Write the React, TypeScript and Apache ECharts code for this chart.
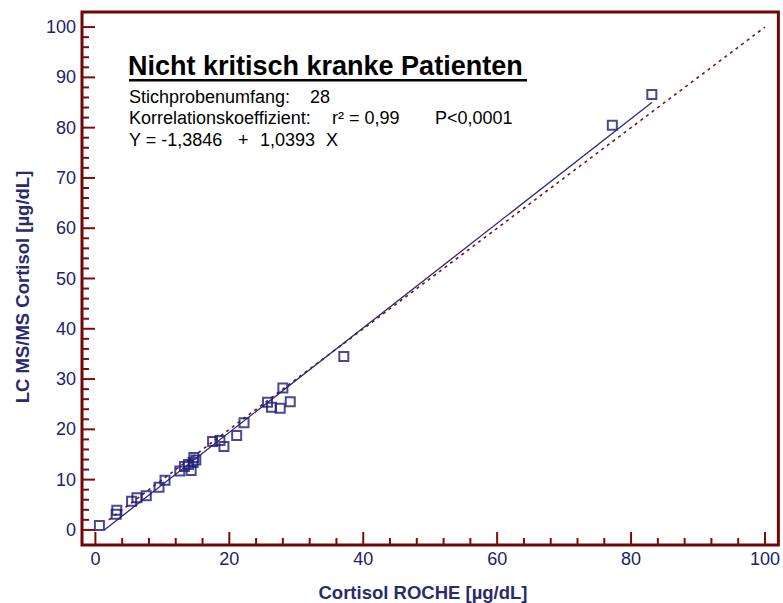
import React, { useEffect, useRef } from "react";
import * as echarts from "echarts";

const rocheX = [0.6, 3.1, 3.2, 5.4, 6.2, 7.6, 9.5, 10.4, 12.6, 13.3, 13.9, 14.3, 14.7, 14.6, 15.0, 17.5, 18.6, 19.2, 21.1, 22.2, 25.7, 26.3, 27.6, 28.0, 29.1, 37.1, 77.2, 83.1];
const lcmsY = [0.9, 3.1, 3.9, 5.7, 6.4, 6.8, 8.5, 9.9, 11.7, 12.6, 13.0, 11.8, 14.4, 13.4, 13.9, 17.6, 17.8, 16.6, 18.8, 21.3, 25.4, 24.4, 24.2, 28.2, 25.5, 34.5, 80.5, 86.6];

const intercept = -1.3846;
const slope = 1.0393;
const regXRange = [1.33, 83.1];
const identityRange = [2, 100];

const xRange = [-2, 102];
const yRange = [-3, 103];
const xMajor = [0, 20, 40, 60, 80, 100];
const xMinor = [4, 8, 12, 16, 24, 28, 32, 36, 44, 48, 52, 56, 64, 68, 72, 76, 84, 88, 92, 96];
const yMajor = [0, 10, 20, 30, 40, 50, 60, 70, 80, 90, 100];
const yMinor = [2, 4, 6, 8, 12, 14, 16, 18, 22, 24, 26, 28, 32, 34, 36, 38, 42, 44, 46, 48, 52, 54, 56, 58, 62, 64, 66, 68, 72, 74, 76, 78, 82, 84, 86, 88, 92, 94, 96, 98];

const FRAME = "#6e0606";
const TICK = "#7a0c0c";
const NAVY = "#1c1c78";
const FONT = "Liberation Sans";

function txt(x: number, y: number, text: string, size = 18, weight = "normal", extra: any = {}) {
  return {
    type: "text",
    x,
    y,
    ...extra,
    style: { text, fill: extra.fill || "#000", fontSize: size, fontWeight: weight, fontFamily: FONT, verticalAlign: "middle", align: extra.align || "left" },
  };
}

export default function App() {
  const ref = useRef<HTMLDivElement>(null);
  useEffect(() => {
    if (!ref.current) return;
    const chart = echarts.init(ref.current, undefined, { renderer: "svg" });
    const points = rocheX.map((x, i) => [x, lcmsY[i]]);
    const regLine = regXRange.map((x) => [x, intercept + slope * x]);
    const idLine = identityRange.map((v) => [v, v]);
    const xTicks = [...xMajor.map((v) => [v, yRange[0], 13]), ...xMinor.map((v) => [v, yRange[0], 7])];
    const yTicks = [...yMajor.map((v) => [xRange[0], v, 13]), ...yMinor.map((v) => [xRange[0], v, 7])];
    chart.setOption({
      animation: false,
      backgroundColor: "#ffffff",
      grid: { left: 82, right: 3, top: 12, bottom: 58, show: true, borderColor: FRAME, borderWidth: 3, backgroundColor: "transparent" },
      xAxis: {
        type: "value",
        gridIndex: 0,
        min: xRange[0],
        max: xRange[1],
        splitLine: { show: false },
        axisLine: { show: false, onZero: false },
        axisTick: { show: false },
        axisLabel: { show: true, customValues: xMajor, margin: 5, color: "#22226a", fontSize: 18, fontFamily: FONT },
      },
      yAxis: {
        type: "value",
        gridIndex: 0,
        min: yRange[0],
        max: yRange[1],
        splitLine: { show: false },
        axisLine: { show: false, onZero: false },
        axisTick: { show: false },
        axisLabel: { show: true, customValues: yMajor, margin: 6, color: "#22226a", fontSize: 18, fontFamily: FONT },
      },
      series: [
        {
          type: "custom",
          xAxisIndex: 0,
          yAxisIndex: 0,
          data: xTicks,
          encode: { x: 0, y: 1 },
          clip: false,
          z: 10,
          renderItem: (params: any, api: any) => {
            const p = api.coord([api.value(0), api.value(1)]);
            const len = xTicks[params.dataIndex][2];
            return { type: "rect", shape: { x: p[0] - 1, y: p[1] - len, width: 2, height: len }, style: { fill: TICK } };
          },
        },
        {
          type: "custom",
          xAxisIndex: 0,
          yAxisIndex: 0,
          data: yTicks,
          encode: { x: 0, y: 1 },
          clip: false,
          z: 10,
          renderItem: (params: any, api: any) => {
            const p = api.coord([api.value(0), api.value(1)]);
            const len = yTicks[params.dataIndex][2];
            return { type: "rect", shape: { x: p[0], y: p[1] - 1, width: len, height: 2 }, style: { fill: TICK } };
          },
        },
        {
          type: "line",
          xAxisIndex: 0,
          yAxisIndex: 0,
          data: idLine,
          symbol: "none",
          lineStyle: { color: "#801010", width: 1.6, type: [3, 4] },
          z: 2,
        },
        {
          type: "line",
          xAxisIndex: 0,
          yAxisIndex: 0,
          data: regLine,
          symbol: "none",
          lineStyle: { color: "#2a2a7a", width: 1.3 },
          z: 3,
        },
        {
          type: "scatter",
          xAxisIndex: 0,
          yAxisIndex: 0,
          data: points,
          symbol: "rect",
          symbolSize: 9,
          itemStyle: { color: "rgba(255,255,255,0)", borderColor: NAVY, borderWidth: 2 },
          z: 4,
        },
      ],
      graphic: [
        txt(128, 66, "Nicht kritisch kranke Patienten", 27, "bold"),
        { type: "rect", shape: { x: 129, y: 79, width: 398, height: 2.5 }, style: { fill: "#000" } },
        txt(129, 97, "Stichprobenumfang:"),
        txt(310, 97, "28"),
        txt(129, 118, "Korrelationskoeffizient:"),
        txt(332, 118, "r² = 0,99"),
        txt(435, 118, "P<0,0001"),
        txt(129, 140, "Y = -1,3846"),
        txt(238, 140, "+"),
        txt(260, 140, "1,0393"),
        txt(326, 140, "X"),
        txt(423, 592, "Cortisol ROCHE [µg/dL]", 18.5, "bold", { fill: "#2a2a6e", align: "center" }),
        txt(22, 287, "LC MS/MS Cortisol [µg/dL]", 18.5, "bold", { fill: "#2a2a6e", align: "center", rotation: Math.PI / 2 }),
      ],
    });
    return () => chart.dispose();
  }, []);
  return <div ref={ref} style={{ width: 783, height: 603, position: "absolute", left: 0, top: 0 }} />;
}
